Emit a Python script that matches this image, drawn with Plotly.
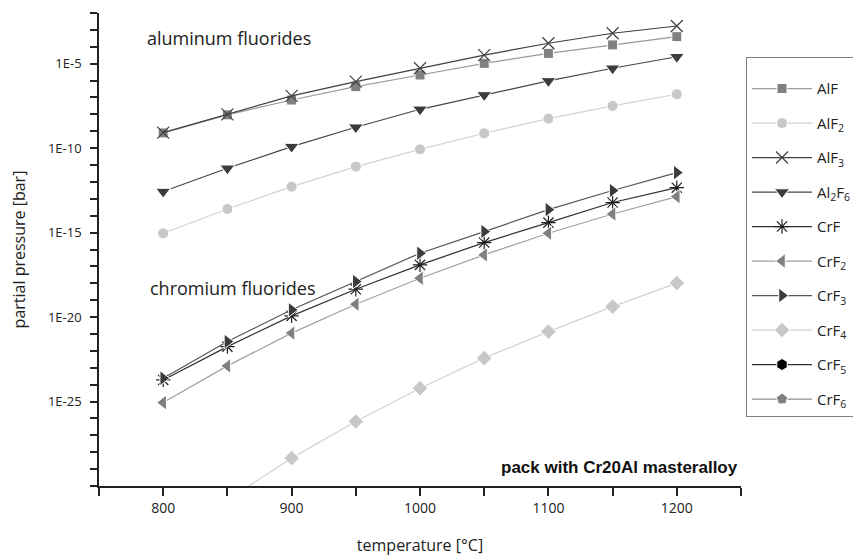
import plotly.graph_objects as go

temperature = [800, 850, 900, 950, 1000, 1050, 1100, 1150, 1200]

# log10 of partial pressure [bar]
log_AlF   = [-9.10, -8.03, -7.15, -6.36, -5.67, -4.98, -4.39, -3.89, -3.40]
log_AlF2  = [-15.04, -13.60, -12.28, -11.09, -10.07, -9.12, -8.25, -7.50, -6.81]
log_AlF3  = [-9.08, -8.00, -6.91, -6.06, -5.27, -4.49, -3.79, -3.20, -2.77]
log_Al2F6 = [-12.57, -11.19, -9.91, -8.76, -7.70, -6.85, -6.02, -5.27, -4.59]
log_CrF   = [-23.72, -21.75, -19.93, -18.35, -16.91, -15.59, -14.41, -13.22, -12.34]
log_CrF2  = [-25.06, -22.89, -20.95, -19.24, -17.70, -16.32, -15.04, -13.90, -12.87]
log_CrF3  = [-23.62, -21.45, -19.57, -17.90, -16.22, -14.94, -13.64, -12.51, -11.45]
log_CrF4  = [-33.3, -30.8, -28.35, -26.18, -24.21, -22.43, -20.86, -19.38, -17.99]
log_CrF5  = [None] * 9
log_CrF6  = [None] * 9

series_names = ["AlF", "AlF<sub>2</sub>", "AlF<sub>3</sub>", "Al<sub>2</sub>F<sub>6</sub>",
                "CrF", "CrF<sub>2</sub>", "CrF<sub>3</sub>", "CrF<sub>4</sub>",
                "CrF<sub>5</sub>", "CrF<sub>6</sub>"]
series_logs = [log_AlF, log_AlF2, log_AlF3, log_Al2F6, log_CrF, log_CrF2,
               log_CrF3, log_CrF4, log_CrF5, log_CrF6]

styles = [
    dict(symbol="square", size=10, color="#808080", line="#9a9a9a", open=False),
    dict(symbol="circle", size=11, color="#c8c8c8", line="#d2d2d2", open=False),
    dict(symbol="x-thin-open", size=12, color="#404040", line="#404040", open=True),
    dict(symbol="triangle-down", size=13, color="#3c3c3c", line="#454545", open=False),
    dict(symbol="asterisk-open", size=12, color="#202020", line="#303030", open=True),
    dict(symbol="triangle-left", size=13, color="#808080", line="#a0a0a0", open=False),
    dict(symbol="triangle-right", size=13, color="#3c3c3c", line="#555555", open=False),
    dict(symbol="diamond", size=12, color="#c8c8c8", line="#d2d2d2", open=False),
    dict(symbol="hexagon", size=12, color="#000000", line="#303030", open=False),
    dict(symbol="pentagon", size=12, color="#808080", line="#909090", open=False),
]

fig = go.Figure()
for name, logs, st in zip(series_names, series_logs, styles):
    y = [None if v is None else 10 ** v for v in logs]
    if st["open"]:
        marker = dict(symbol=st["symbol"], size=st["size"], color=st["color"],
                      line=dict(color=st["color"], width=1.2))
    else:
        marker = dict(symbol=st["symbol"], size=st["size"], color=st["color"],
                      line=dict(color="white", width=1))
    fig.add_trace(go.Scatter(
        x=temperature, y=y, name=name, mode="lines+markers",
        line=dict(color=st["line"], width=1.2), marker=marker,
        legendgroup=name,
    ))

x_tickvals = list(range(750, 1251, 50))
x_ticktext = [str(v) if v % 100 == 0 else "" for v in x_tickvals]
y_exps = list(range(-30, -1))
y_tickvals = [10.0 ** e for e in y_exps]
y_ticktext = ["1E%d" % e if e % 5 == 0 and e > -30 else "" for e in y_exps]

fig.update_layout(
    width=853, height=559,
    margin=dict(l=99, r=112, t=13, b=73, autoexpand=False),
    paper_bgcolor="white", plot_bgcolor="white",
    font=dict(family="Open Sans", color="#222222"),
    showlegend=True,
    legend=dict(x=1.0078, y=0.907, xanchor="left", yanchor="top",
                bordercolor="#808080", borderwidth=1, bgcolor="white",
                font=dict(size=15, family="Open Sans", color="#222222"),
                title=dict(text=" ", font=dict(size=11)),
                tracegroupgap=12, itemwidth=60),
    xaxis=dict(range=[750, 1250], tickvals=x_tickvals, ticktext=x_ticktext,
               ticks="outside", ticklen=8, tickwidth=1.5, tickcolor="#222222",
               showline=True, linecolor="#222222", linewidth=2,
               showgrid=False, zeroline=False, tickfont=dict(size=14),
               title=dict(text="temperature [°C]", font=dict(size=16), standoff=24)),
    yaxis=dict(type="log", range=[-30, -2], tickvals=y_tickvals, ticktext=y_ticktext,
               ticks="outside", ticklen=7, tickwidth=1.5, tickcolor="#222222",
               ticklabelstandoff=6,
               showline=True, linecolor="#222222", linewidth=1.5,
               showgrid=False, zeroline=False, tickfont=dict(size=13),
               title=dict(text="partial pressure [bar]", font=dict(size=16), standoff=18)),
    annotations=[
        dict(text="aluminum fluorides", xref="paper", yref="paper", x=0.0717, y=0.947,
             xanchor="left", yanchor="middle", showarrow=False,
             font=dict(size=18, family="Open Sans", color="#222222")),
        dict(text="chromium fluorides", xref="paper", yref="paper", x=0.0763, y=0.4186,
             xanchor="left", yanchor="middle", showarrow=False,
             font=dict(size=18, family="Open Sans", color="#222222")),
        dict(text="<b>pack with Cr20Al masteralloy</b>", xref="paper", yref="paper",
             x=0.9984, y=0.040, xanchor="right", yanchor="middle", showarrow=False,
             font=dict(size=17, family="Liberation Sans", color="#111111")),
    ],
)

fig.write_html("out.html")
